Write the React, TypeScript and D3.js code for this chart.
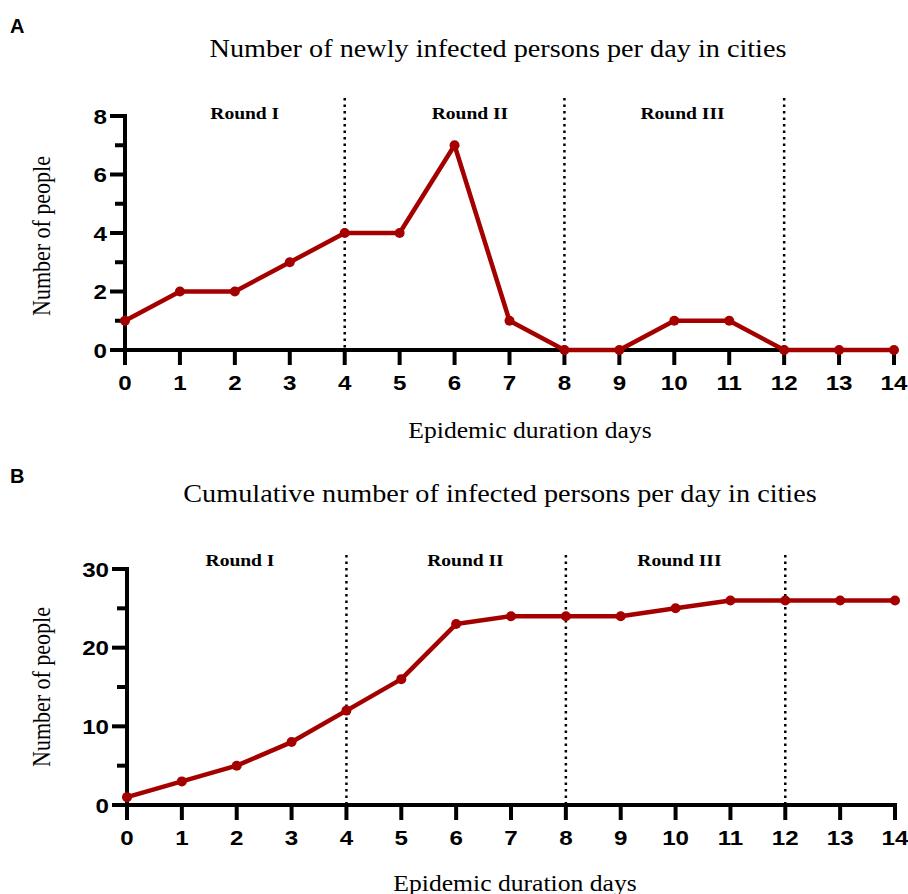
import React from "react";
import * as d3 from "d3";

const days = [0, 1, 2, 3, 4, 5, 6, 7, 8, 9, 10, 11, 12, 13, 14];
const newCases = [1, 2, 2, 3, 4, 4, 7, 1, 0, 0, 1, 1, 0, 0, 0];
const cumulative = [1, 3, 5, 8, 12, 16, 23, 24, 24, 24, 25, 26, 26, 26, 26];
const roundBounds = [4, 8, 12];
const roundLabels = ["Round I", "Round II", "Round III"];
const roundLabelPosA = [2.18, 6.28, 10.15];
const roundLabelPosB = [2.06, 6.17, 10.07];
const yTicksA = [0, 2, 4, 6, 8];
const yMinorA = [1, 3, 5, 7];
const yTicksB = [0, 10, 20, 30];
const yMinorB = [5, 15, 25];

const RED = "#a50000";
const SANS = "'Liberation Sans', Arial, sans-serif";
const SERIF = "'Liberation Serif', 'Times New Roman', serif";
const SX = 1.15;

type TProps = {
  x: number;
  y: number;
  anchor?: string;
  family: string;
  size: number;
  weight?: string;
  sx?: number;
  children: React.ReactNode;
};

function T({ x, y, anchor = "start", family, size, weight = "normal", sx = SX, children }: TProps) {
  return (
    <text
      transform={`translate(${x},${y}) scale(${sx},1)`}
      textAnchor={anchor}
      fontFamily={family}
      fontSize={size}
      fontWeight={weight}
    >
      {children}
    </text>
  );
}

type PanelProps = {
  letter: string;
  letterY: number;
  title: string;
  titleX: number;
  titleY: number;
  values: number[];
  x0: number;
  x1: number;
  yTop: number;
  yBottom: number;
  yMax: number;
  yTicks: number[];
  yMinor: number[];
  labelPos: number[];
  labelY: number;
  dotTop: number;
  xLabelX: number;
  xLabelY: number;
  yLabelCenter: number;
};

function Panel(p: PanelProps) {
  const x = d3.scaleLinear().domain([0, 14]).range([p.x0, p.x1]);
  const y = d3.scaleLinear().domain([0, p.yMax]).range([p.yBottom, p.yTop]);
  const line = d3
    .line<number>()
    .x((_, i) => x(days[i]))
    .y((d) => y(d));
  const axisW = 4;
  return (
    <g>
      <text x={10} y={p.letterY} fontFamily={SANS} fontWeight="bold" fontSize={20}>
        {p.letter}
      </text>
      <T x={p.titleX} y={p.titleY} anchor="middle" family={SERIF} size={25} sx={1.13}>
        {p.title}
      </T>
      {roundBounds.map((b) => (
        <line
          key={b}
          x1={x(b)}
          x2={x(b)}
          y1={p.dotTop}
          y2={p.yBottom}
          stroke="#000"
          strokeWidth={2.5}
          strokeDasharray="2.5,4"
        />
      ))}
      {roundLabels.map((l, i) => (
        <T key={l} x={x(p.labelPos[i])} y={p.labelY} anchor="middle" family={SERIF} weight="bold" size={17}>
          {l}
        </T>
      ))}
      {/* y axis */}
      <line x1={p.x0} x2={p.x0} y1={p.yTop - 2} y2={p.yBottom + 2} stroke="#000" strokeWidth={axisW} />
      {p.yTicks.map((t) => (
        <g key={t}>
          <line x1={p.x0 - 15} x2={p.x0} y1={y(t)} y2={y(t)} stroke="#000" strokeWidth={axisW} />
          <T x={p.x0 - 18} y={y(t) + 7.5} anchor="end" family={SANS} weight="bold" size={21}>
            {t}
          </T>
        </g>
      ))}
      {p.yMinor.map((t) => (
        <line key={t} x1={p.x0 - 10} x2={p.x0} y1={y(t)} y2={y(t)} stroke="#000" strokeWidth={axisW} />
      ))}
      {/* x axis */}
      <line x1={p.x0 - 2} x2={p.x1 + 2} y1={p.yBottom} y2={p.yBottom} stroke="#000" strokeWidth={axisW} />
      {days.map((d) => (
        <g key={d}>
          <line x1={x(d)} x2={x(d)} y1={p.yBottom} y2={p.yBottom + 15} stroke="#000" strokeWidth={axisW} />
          <T x={x(d)} y={p.yBottom + 40} anchor="middle" family={SANS} weight="bold" size={21}>
            {d}
          </T>
        </g>
      ))}
      <T x={p.xLabelX} y={p.xLabelY} anchor="middle" family={SERIF} size={22.5} sx={1.14}>
        Epidemic duration days
      </T>
      <text
        transform={`translate(50,${p.yLabelCenter}) scale(${SX},1) rotate(-90)`}
        textAnchor="middle"
        fontFamily={SERIF}
        fontSize={22}
      >
        Number of people
      </text>
      <path d={line(p.values) || ""} fill="none" stroke={RED} strokeWidth={4.5} strokeLinejoin="round" />
      {p.values.map((v, i) => (
        <circle key={i} cx={x(days[i])} cy={y(v)} r={5} fill={RED} />
      ))}
    </g>
  );
}

export default function App() {
  return (
    <svg width={908} height={894} style={{ position: "absolute", left: 0, top: 0 }}>
      <rect width={908} height={894} fill="#fff" />
      <Panel
        letter="A"
        letterY={33}
        title="Number of newly infected persons per day in cities"
        titleX={498}
        titleY={57}
        values={newCases}
        x0={125}
        x1={894}
        yTop={116}
        yBottom={350}
        yMax={8}
        yTicks={yTicksA}
        yMinor={yMinorA}
        labelPos={roundLabelPosA}
        labelY={119}
        dotTop={98}
        xLabelX={530}
        xLabelY={438}
        yLabelCenter={236}
      />
      <Panel
        letter="B"
        letterY={483}
        title="Cumulative number of infected persons per day in cities"
        titleX={500}
        titleY={502}
        values={cumulative}
        x0={127}
        x1={895}
        yTop={569}
        yBottom={805}
        yMax={30}
        yTicks={yTicksB}
        yMinor={yMinorB}
        labelPos={roundLabelPosB}
        labelY={566}
        dotTop={555}
        xLabelX={515}
        xLabelY={891}
        yLabelCenter={687}
      />
    </svg>
  );
}
